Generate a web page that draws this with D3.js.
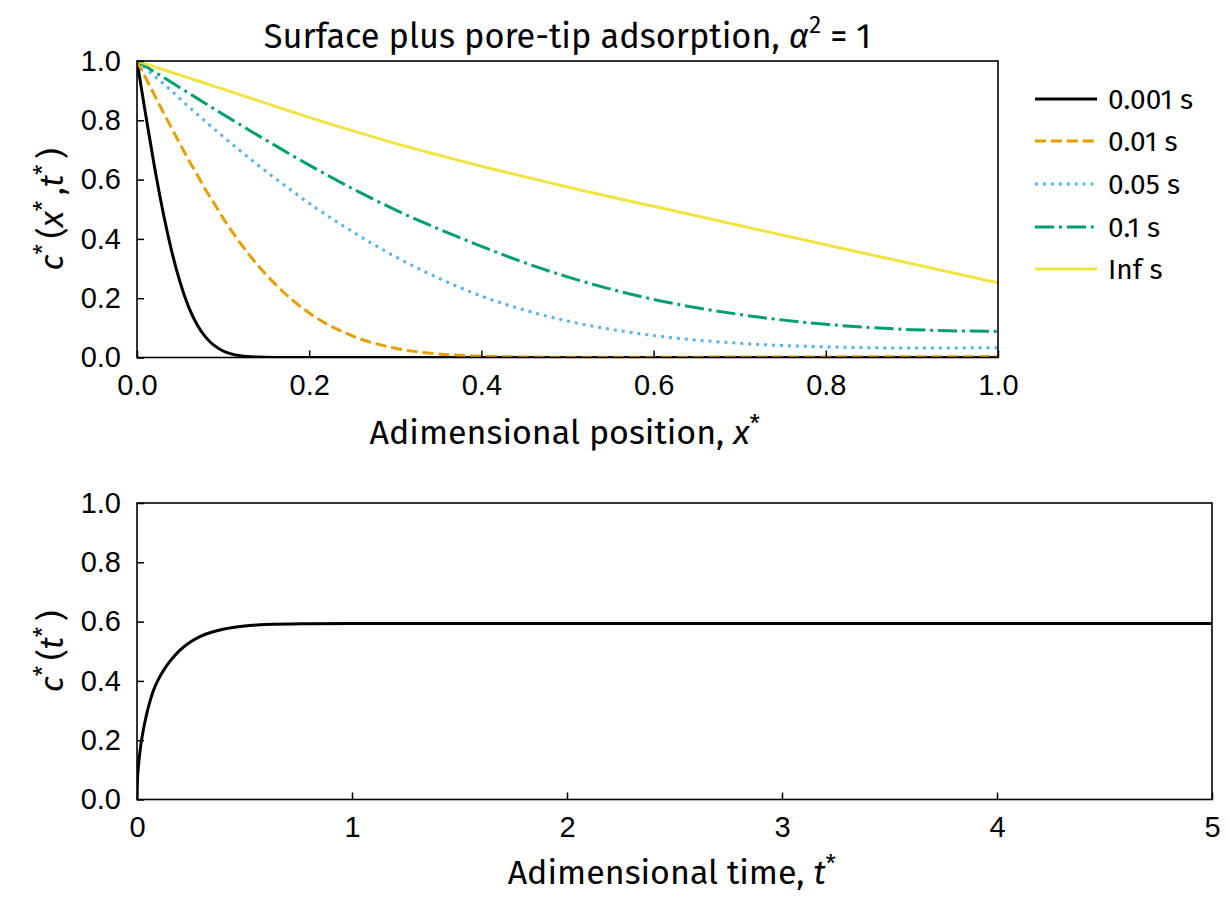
<!DOCTYPE html>
<html>
<head>
<meta charset="utf-8">
<script src="https://cdn.jsdelivr.net/npm/d3@7"></script>
<style>
  body { margin: 0; background: #fff; }
  svg { font-family: "Fira Sans", "Noto Sans", sans-serif; }
  .tick text { font-size: 29px; fill: #000; }
  .tick line { stroke: #000; stroke-width: 1.5; }
</style>
</head>
<body>
<div id="chart"></div>
<script>
//Values
var posX = [0, 0.01, 0.02, 0.03, 0.04, 0.05, 0.06, 0.07, 0.08, 0.09, 0.1, 0.12, 0.14, 0.16, 0.18, 0.2,
  0.25, 0.3, 0.35, 0.4, 0.45, 0.5, 0.6, 0.7, 0.8, 0.9, 1.0];
var c0001 = [1, 0.82, 0.648, 0.494, 0.362, 0.254, 0.17, 0.11, 0.068, 0.04, 0.022, 0.006, 0.0014, 0.0003, 0, 0,
  0, 0, 0, 0, 0, 0, 0, 0, 0, 0, 0];
var c001 = [1, 0.943, 0.887, 0.83, 0.775, 0.72, 0.666, 0.616, 0.564, 0.518, 0.47, 0.386, 0.312, 0.249, 0.195, 0.15,
  0.073, 0.031, 0.012, 0.0045, 0.0018, 0.001, 0.001, 0.0015, 0.002, 0.0025, 0.003];
var c005 = [1, 0.975, 0.95, 0.925, 0.9, 0.872, 0.846, 0.82, 0.795, 0.77, 0.745, 0.697, 0.65, 0.605, 0.562, 0.52,
  0.425, 0.34, 0.268, 0.207, 0.16, 0.123, 0.074, 0.048, 0.036, 0.032, 0.033];
var c01 = [1, 0.982, 0.964, 0.946, 0.928, 0.91, 0.892, 0.874, 0.856, 0.838, 0.82, 0.785, 0.75, 0.716, 0.682, 0.649,
  0.57, 0.498, 0.434, 0.375, 0.32, 0.272, 0.196, 0.145, 0.112, 0.094, 0.088];
var cInf = [1, 0.9905, 0.981, 0.9715, 0.962, 0.9525, 0.943, 0.9335, 0.924, 0.9145, 0.905, 0.886, 0.867, 0.848, 0.829, 0.81,
  0.765, 0.722, 0.683, 0.645, 0.61, 0.575, 0.51, 0.445, 0.38, 0.316, 0.252];

var seriesLabels = ["0.001 s", "0.01 s", "0.05 s", "0.1 s", "Inf s"];
var seriesColors = ["#000000", "#E69F00", "#56B4E9", "#009E73", "#F0E442"];
var seriesDash = ["none", "11.1,4.8", "3,4.95", "19.2,4.8,3,4.8", "none"];
var seriesValues = [c0001, c001, c005, c01, cInf];

var timeT = [0, 0.002, 0.005, 0.01, 0.02, 0.03, 0.04, 0.05, 0.06, 0.075, 0.1, 0.125, 0.15, 0.175, 0.2, 0.25,
  0.3, 0.35, 0.4, 0.5, 0.6, 0.8, 1, 2, 3, 4, 5];
var cTime = [0, 0.062, 0.098, 0.138, 0.195, 0.237, 0.272, 0.303, 0.33, 0.365, 0.406, 0.437, 0.463, 0.485, 0.504, 0.532,
  0.552, 0.565, 0.574, 0.585, 0.59, 0.593, 0.594, 0.594, 0.594, 0.594, 0.594];

var yTicks = [0, 0.2, 0.4, 0.6, 0.8, 1.0];
var xTicksTop = [0, 0.2, 0.4, 0.6, 0.8, 1.0];
var xTicksBot = [0, 1, 2, 3, 4, 5];

var svgWidth = 1230;
var svgHeight = 923;
var labelSize = 34;

var svg = d3.select("#chart")
  .append("svg")
  .attr("width", svgWidth)
  .attr("height", svgHeight);

//plot boxes
var top1 = { left: 137, right: 998, top: 61, bottom: 357.5 };
var bot1 = { left: 137, right: 1212, top: 503, bottom: 799.5 };

var xScale = d3.scaleLinear().domain([0, 1]).range([top1.left, top1.right]);
var yScale = d3.scaleLinear().domain([0, 1]).range([top1.bottom, top1.top]);
var tScale = d3.scaleLinear().domain([0, 5]).range([bot1.left, bot1.right]);
var yScale2 = d3.scaleLinear().domain([0, 1]).range([bot1.bottom, bot1.top]);

function clip(id, box) {
  svg.append("clipPath").attr("id", id)
    .append("rect")
    .attr("x", box.left).attr("y", box.top)
    .attr("width", box.right - box.left).attr("height", box.bottom - box.top);
}
clip("clipTop", top1);
clip("clipBot", bot1);

function drawAxes(box, xs, ys, xTicks, xFmt) {
  svg.append("g")
    .attr("transform", "translate(0," + box.bottom + ")")
    .call(d3.axisBottom(xs).tickValues(xTicks).tickFormat(xFmt)
      .tickSizeInner(-7).tickSizeOuter(0).tickPadding(17))
    .call(function(g) { g.select(".domain").remove(); });
  svg.append("g")
    .attr("transform", "translate(" + box.left + ",0)")
    .call(d3.axisLeft(ys).tickValues(yTicks).tickFormat(d3.format(".1f"))
      .tickSizeInner(-7).tickSizeOuter(0).tickPadding(16))
    .call(function(g) { g.select(".domain").remove(); });
}

//Top chart: concentration profiles
var line = d3.line()
  .x(function(d) { return xScale(d[0]); })
  .y(function(d) { return yScale(d[1]); })
  .curve(d3.curveMonotoneX);

var curves = svg.append("g").attr("clip-path", "url(#clipTop)");
seriesValues.forEach(function(vals, i) {
  curves.append("path")
    .datum(posX.map(function(x, j) { return [x, vals[j]]; }))
    .attr("d", line)
    .attr("fill", "none")
    .attr("stroke", seriesColors[i])
    .attr("stroke-width", 3)
    .attr("stroke-dasharray", seriesDash[i])
    .attr("stroke-linecap", "butt");
});

drawAxes(top1, xScale, yScale, xTicksTop, d3.format(".1f"));

svg.append("rect")
  .attr("x", top1.left).attr("y", top1.top)
  .attr("width", top1.right - top1.left).attr("height", top1.bottom - top1.top)
  .attr("fill", "none").attr("stroke", "#000").attr("stroke-width", 1.6);

//Bottom chart: average concentration vs time
var line2 = d3.line()
  .x(function(d) { return tScale(d[0]); })
  .y(function(d) { return yScale2(d[1]); })
  .curve(d3.curveMonotoneX);

svg.append("g").attr("clip-path", "url(#clipBot)")
  .append("path")
  .datum(timeT.map(function(t, j) { return [t, cTime[j]]; }))
  .attr("d", line2)
  .attr("fill", "none")
  .attr("stroke", "#000")
  .attr("stroke-width", 3);

drawAxes(bot1, tScale, yScale2, xTicksBot, d3.format("d"));

svg.append("rect")
  .attr("x", bot1.left).attr("y", bot1.top)
  .attr("width", bot1.right - bot1.left).attr("height", bot1.bottom - bot1.top)
  .attr("fill", "none").attr("stroke", "#000").attr("stroke-width", 1.6);

//Title
var title = svg.append("text")
  .attr("x", (top1.left + top1.right) / 2)
  .attr("y", 48)
  .attr("text-anchor", "middle")
  .attr("font-size", 34.3);
title.append("tspan").text("Surface plus pore-tip adsorption, ");
title.append("tspan").attr("font-style", "italic").text("α");
title.append("tspan").attr("font-size", 24).attr("dy", -15).text("2");
title.append("tspan").attr("dy", 15).text(" = 1");

//Axis labels with superscript stars
function starLabel(parent, parts) {
  parts.forEach(function(p) {
    parent.append("tspan").attr("font-style", p[1] ? "italic" : "normal").text(p[0]);
    if (p[2]) {
      parent.append("tspan").attr("font-size", labelSize * 0.7).attr("dy", -labelSize * 0.36).text("*");
      parent.append("tspan").attr("font-size", labelSize * 0.8).attr("dy", labelSize * 0.36).text("\u2009");
    }
  });
}

var xLab = svg.append("text")
  .attr("x", (top1.left + top1.right) / 2)
  .attr("y", 444)
  .attr("text-anchor", "middle")
  .attr("font-size", labelSize);
starLabel(xLab, [["Adimensional position, ", false, false], ["x", true, true]]);

var tLab = svg.append("text")
  .attr("x", (bot1.left + bot1.right) / 2)
  .attr("y", 884)
  .attr("text-anchor", "middle")
  .attr("font-size", labelSize);
starLabel(tLab, [["Adimensional time, ", false, false], ["t", true, true]]);

var yLab = svg.append("text")
  .attr("transform", "translate(63," + (top1.top + top1.bottom) / 2 + ")rotate(-90)")
  .attr("text-anchor", "middle")
  .attr("font-size", labelSize);
starLabel(yLab, [["c", true, true], ["(", false, false], ["x", true, true], [",", false, false], ["t", true, true], [")", false, false]]);

var yLab2 = svg.append("text")
  .attr("transform", "translate(63," + (bot1.top + bot1.bottom) / 2 + ")rotate(-90)")
  .attr("text-anchor", "middle")
  .attr("font-size", labelSize);
starLabel(yLab2, [["c", true, true], ["(", false, false], ["t", true, true], [")", false, false]]);

//Legend
var legendRows = [99, 141, 184, 227, 269];
var legend = svg.append("g").attr("class", "legend");
seriesLabels.forEach(function(lab, i) {
  legend.append("line")
    .attr("x1", 1035).attr("x2", 1097)
    .attr("y1", legendRows[i]).attr("y2", legendRows[i])
    .attr("stroke", seriesColors[i])
    .attr("stroke-width", 3)
    .attr("stroke-dasharray", seriesDash[i]);
  legend.append("text")
    .attr("x", 1108)
    .attr("y", legendRows[i] + 10)
    .attr("font-size", 28)
    .text(lab);
});
</script>
</body>
</html>
